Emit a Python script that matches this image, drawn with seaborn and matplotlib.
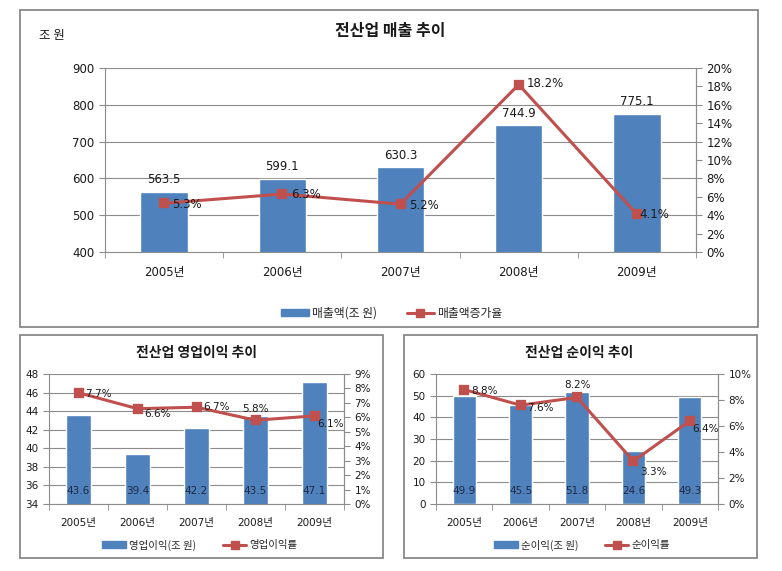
import numpy as np
import matplotlib
matplotlib.use("Agg")
import matplotlib.pyplot as plt
import seaborn as sns
from matplotlib.patches import Rectangle, Patch
from matplotlib.lines import Line2D
from matplotlib.ticker import FuncFormatter, FixedLocator

# data
years = ['2005년', '2006년', '2007년', '2008년', '2009년']
sales = [563.5, 599.1, 630.3, 744.9, 775.1]
sales_growth = [5.3, 6.3, 5.2, 18.2, 4.1]
op_profit = [43.6, 39.4, 42.2, 43.5, 47.1]
op_margin = [7.7, 6.6, 6.7, 5.8, 6.1]
net_profit = [49.9, 45.5, 51.8, 24.6, 49.3]
net_margin = [8.8, 7.6, 8.2, 3.3, 6.4]

sns.set_style("white")
# wide latin digits first, korean glyphs fall back to Noto
plt.rcParams['font.family'] = ['DejaVu Sans', 'Noto Sans CJK KR']
KR = ['Noto Sans CJK KR', 'DejaVu Sans']

BAR = '#4F81BD'
LINE = '#C0504D'
GRID = '#8C8C8C'
TXT = '#1a1a1a'

W, H = 782, 571
fig = plt.figure(figsize=(W / 100, H / 100), dpi=100)


def px_box(x0, y0, x1, y1):
    # pixel box (top-left origin) -> figure fraction [l, b, w, h]
    return [x0 / W, 1 - y1 / H, (x1 - x0) / W, (y1 - y0) / H]


def frame(x0, y0, x1, y1):
    l, b, w, h = px_box(x0, y0, x1, y1)
    fig.patches.append(Rectangle((l, b), w, h, transform=fig.transFigure,
                                 fill=False, edgecolor='#7f7f7f', lw=1.2))


def panel(box, vals, rates, ylim, ystep, rlim, rstep, fs, bar_lbl_inside,
          rate_offsets, bar_width=0.4):
    ax = fig.add_axes(px_box(*box))
    sns.barplot(x=years, y=vals, color=BAR, width=bar_width, saturation=1,
                ax=ax, zorder=2)
    ax.set_ylim(*ylim)
    ax.set_xlim(-0.5, len(years) - 0.5)
    ax.yaxis.set_major_locator(FixedLocator(np.arange(ylim[0], ylim[1] + ystep / 2, ystep)))
    ax.grid(axis='y', color=GRID, lw=0.8, zorder=0)
    ax.set_axisbelow(True)
    ax.spines['top'].set_visible(False)
    for s in ['left', 'right', 'bottom']:
        ax.spines[s].set_color(GRID)
    ax.set_xlabel('')
    ax.set_ylabel('')
    ax.tick_params(axis='x', length=0, pad=10, labelsize=fs, colors=TXT)
    ax.set_xticks(np.arange(-0.5, len(years), 1), minor=True)
    ax.tick_params(axis='x', which='minor', length=4, color=GRID, direction='out', bottom=True)
    ax.tick_params(axis='y', length=4, color=GRID, labelsize=fs, colors=TXT, left=True)

    for i, v in enumerate(vals):
        if bar_lbl_inside:
            ax.annotate(f'{v:.1f}', (i, ylim[0]), xytext=(0, 9), textcoords='offset points',
                        ha='center', va='center', fontsize=fs, color='#1f2a44')
        else:
            ax.annotate(f'{v:.1f}', (i, v), xytext=(0, 4), textcoords='offset points',
                        ha='center', va='bottom', fontsize=fs, color=TXT)

    ax2 = ax.twinx()
    sns.pointplot(x=years, y=rates, color=LINE, markers='s', markersize=6,
                  linewidth=2.2, ax=ax2)
    ax2.set_ylim(*rlim)
    ax2.set_xlim(-0.5, len(years) - 0.5)
    ax2.yaxis.set_major_locator(FixedLocator(np.arange(rlim[0], rlim[1] + rstep / 2, rstep)))
    ax2.yaxis.set_major_formatter(FuncFormatter(lambda v, p: f'{v:.0f}%'))
    ax2.set_ylabel('')
    ax2.set_xlabel('')
    ax2.grid(False)
    for s in ['top', 'left', 'bottom']:
        ax2.spines[s].set_visible(False)
    ax2.spines['right'].set_color(GRID)
    ax2.tick_params(axis='y', length=4, color=GRID, labelsize=fs, colors=TXT, right=True)
    for i, r in enumerate(rates):
        dx, dy = rate_offsets[i]
        ax2.annotate(f'{r:.1f}%', (i, r), xytext=(dx, dy), textcoords='offset points',
                     ha='left' if dx > 0 else 'center', va='center', fontsize=fs, color=TXT)
    return ax, ax2


def legend(cx, cy, labels, fs):
    handles = [Patch(facecolor=BAR, edgecolor=BAR),
               Line2D([], [], color=LINE, marker='s', lw=2.2, ms=6)]
    fig.legend(handles, labels, loc='center', bbox_to_anchor=(cx / W, 1 - cy / H),
               ncol=2, frameon=False, prop={'family': KR, 'size': fs},
               handlelength=2.3, handleheight=0.6, columnspacing=2.5, handletextpad=0.3)


# top panel
frame(20, 10, 758, 327)
panel((105, 68, 696, 252), sales, sales_growth, (400, 900), 100, (0, 20), 2, 8.5, False,
      [(6, -1), (6, 0), (6, -1), (6, 1), (2, 0)])
fig.text(390 / W, 1 - 31 / H, '전산업 매출 추이', ha='center', va='center',
         fontsize=11.5, fontweight='bold', color=TXT, family=KR)
fig.text(52 / W, 1 - 36 / H, '조 원', ha='center', va='center', fontsize=9,
         color=TXT, family=KR)
legend(392, 313, ['매출액(조 원)', '매출액증가율'], 8.5)

# bottom left
frame(20, 335, 383, 558)
panel((49, 374, 344, 504), op_profit, op_margin, (34, 48), 2, (0, 9), 1, 7.5, True,
      [(5, -1), (5, -4), (5, 0), (0, 8), (2, -6)], bar_width=0.41)
fig.text(196 / W, 1 - 353 / H, '전산업 영업이익 추이', ha='center', va='center',
         fontsize=10, fontweight='bold', color=TXT, family=KR)
legend(200, 545, ['영업이익(조 원)', '영업이익률'], 7.5)

# bottom right
frame(404, 335, 757, 558)
panel((436, 374, 718, 504), net_profit, net_margin, (0, 60), 10, (0, 10), 2, 7.5, True,
      [(5, -1), (5, -2), (0, 9), (5, -8), (2, -6)], bar_width=0.41)
fig.text(579 / W, 1 - 353 / H, '전산업 순이익 추이', ha='center', va='center',
         fontsize=10, fontweight='bold', color=TXT, family=KR)
legend(582, 545, ['순이익(조 원)', '순이익률'], 7.5)

fig.savefig('out.png', dpi=100)
